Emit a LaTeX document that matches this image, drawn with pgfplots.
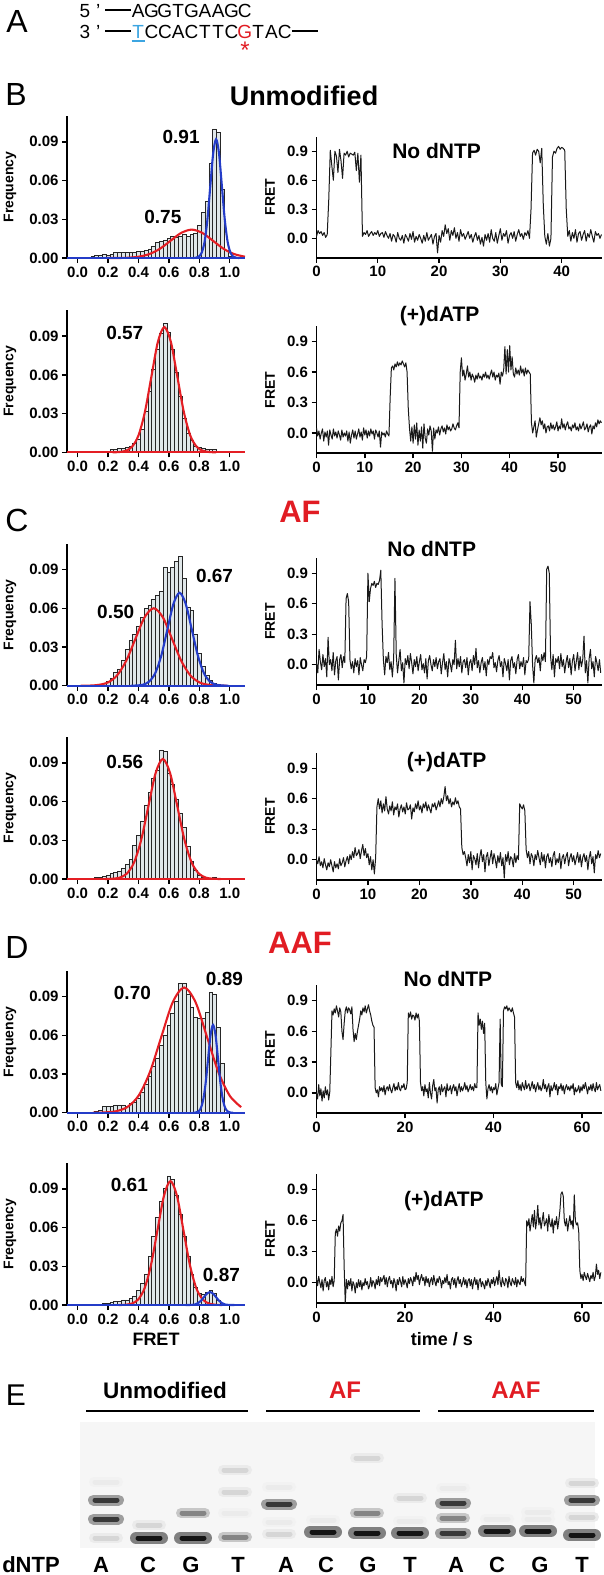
\documentclass[border=0pt]{standalone}
\usepackage{pgfplots}
\usepackage{pgfplotstable}
\pgfplotsset{compat=1.18}
\usepackage{fontspec}
\setmainfont{Liberation Sans}
\definecolor{fitred}{RGB}{228,30,36}
\definecolor{fitblue}{RGB}{36,60,200}
\definecolor{barfill}{RGB}{224,231,233}
\definecolor{seqblue}{RGB}{60,165,225}
\definecolor{labred}{RGB}{225,28,35}
\definecolor{gelbg}{RGB}{246,246,246}
\newcommand\fs[1]{\fontsize{#1}{#1}\selectfont}
\newcommand\cc[1]{\makebox[13.33pt]{#1}}
\newcommand\sdash{\makebox[26.67pt]{\rule[6.5pt]{26pt}{1.2pt}}}
\tikzset{
  pk/.style={font=\fs{19}\bfseries},
  cond/.style={font=\fs{21}\bfseries},
}
\pgfplotsset{
  base/.style={scale only axis, clip=false,
    axis x line*=bottom, axis y line*=left,
    every outer x axis line/.append style={-}, every outer y axis line/.append style={-},
    every inner x axis line/.append style={-}, every inner y axis line/.append style={-},
    axis line style={line width=1.7pt, black},
    major tick style={line width=1.4pt, black}, tick align=outside, major tick length=5pt,
    ticklabel style={font=\fs{15}\bfseries},
  },
  hist/.style={base, width=178pt, height=142pt, xmin=-0.07, xmax=1.1, ymin=0, ymax=0.11,
    xtick={0,0.2,0.4,0.6,0.8,1}, xticklabels={0.0,0.2,0.4,0.6,0.8,1.0},
    ytick={0,0.03,0.06,0.09}, yticklabels={0.00,0.03,0.06,0.09},
    ylabel={Frequency},
    ylabel style={font=\fs{14}\bfseries, at={(axis description cs:-0.32,0.5)}, anchor=center},
  },
  trace/.style={base, width=285pt, ymin=-0.2, ymax=1.05, xmin=0,
    ytick={0,0.3,0.6,0.9}, yticklabels={0.0,0.3,0.6,0.9},
    ylabel={FRET},
    ylabel style={font=\fs{14}\bfseries, at={(axis description cs:-0.163,0.5)}, anchor=center},
  },
  bars/.style={ybar, bar width=0.025, bar shift=0pt, fill=barfill, draw=black!85, line width=0.7pt},
  rfit/.style={fitred, line width=2.1pt, smooth, no markers},
  bfit/.style={fitblue, line width=2.1pt, smooth, no markers},
  tr/.style={black!90, line width=1pt, no markers, line join=round},
}
% gel bands: lane position (px), height above the gel bottom (px), grouped by darkness
\pgfplotstableread{
x y
149 10
323 16
367 15
410 15
497 17
538 17
193 10
582 13
}\gelV
\pgfplotstableread{
x y
106 48
106 29
279 44
453 45
453 15
582 48
}\gelD
\pgfplotstableread{
x y
193 35
235 11
453 30
367 35
}\gelM
\pgfplotstableread{
x y
279 14
582 65
582 31
367 90
106 10
149 23
235 78
235 56
410 50
}\gelF
\pgfplotstableread{
x y
106 66
235 35
279 61
279 26
453 60
538 36
323 28
497 29
538 29
410 27
}\gelW
\newcommand\bandcls[5]{%
  \addplot[only marks, mark=-, mark size=#4pt, mark options={line width=#5pt, line cap=round, draw=#2}] table[x=x,y=y] {#1};
  \addplot[only marks, mark=-, mark size=11pt, mark options={line width=5pt, line cap=round, draw=#3}] table[x=x,y=y] {#1};}

\begin{document}
\begin{tikzpicture}
\path[use as bounding box] (0pt,0pt) rectangle (604pt,-1575pt);

% ---------------- Panel A
\node[anchor=base, font=\fs{32}, inner sep=0] at (17pt,-32pt) {A};
\node[anchor=base west, inner sep=0, font=\fs{19}] at (78pt,-17pt)
  {\cc{5}\cc{'}\sdash\cc{A}\cc{G}\cc{G}\cc{T}\cc{G}\cc{A}\cc{A}\cc{G}\cc{C}};
\node[anchor=base west, inner sep=0, font=\fs{19}] at (78pt,-38pt)
  {\cc{3}\cc{'}\sdash\textcolor{seqblue}{\cc{T}}\cc{C}\cc{C}\cc{A}\cc{C}\cc{T}\cc{T}\cc{C}\textcolor{labred}{\cc{G}}\cc{T}\cc{A}\cc{C}\sdash};
\draw[seqblue, line width=1.5pt] (131.5pt,-41pt) -- (144.5pt,-41pt);
\node[anchor=north, inner sep=0, font=\fs{24}, labred] at (245pt,-41.5pt) {*};

% ---------------- Titles and panel letters
\node[anchor=base, font=\fs{32}, inner sep=0] at (16pt,-105pt) {B};
\node[anchor=base, font=\fs{27}\bfseries, inner sep=0] at (304pt,-105pt) {Unmodified};
\node[anchor=base, font=\fs{32}, inner sep=0] at (17pt,-531pt) {C};
\node[anchor=base, font=\fs{31}\bfseries, inner sep=0, labred] at (300pt,-522pt) {AF};
\node[anchor=base, font=\fs{32}, inner sep=0] at (17pt,-958pt) {D};
\node[anchor=base, font=\fs{31}\bfseries, inner sep=0, labred] at (300pt,-953pt) {AAF};

% ================= B top histogram
\begin{axis}[hist, at={(67pt,-258pt)}, anchor=south west]
\addplot[bars] table[row sep=\\]{x y\\
0.100 0.001\\0.125 0.002\\0.150 0.002\\0.175 0.003\\0.200 0.002\\0.225 0.003\\0.250 0.004\\0.275 0.004\\
0.300 0.004\\0.325 0.004\\0.350 0.004\\0.375 0.004\\0.400 0.005\\0.425 0.005\\0.450 0.006\\0.475 0.007\\
0.500 0.009\\0.525 0.012\\0.550 0.013\\0.575 0.014\\0.600 0.015\\0.625 0.017\\0.650 0.016\\0.675 0.017\\
0.700 0.018\\0.725 0.017\\0.750 0.018\\0.775 0.019\\0.800 0.025\\0.825 0.035\\0.850 0.044\\0.875 0.073\\
0.900 0.100\\0.925 0.097\\0.950 0.053\\0.975 0.006\\1.000 0.001\\};
\addplot[fitred, line width=2.1pt] coordinates {(-0.07,0) (1.1,0)};
\addplot[rfit] coordinates {(0.19,0) (0.26,0) (0.33,0.0002) (0.40,0.0010) (0.47,0.0030) (0.54,0.0071) (0.61,0.0133) (0.68,0.0194) (0.75,0.022) (0.82,0.0194) (0.89,0.0133) (0.96,0.0071) (1.03,0.0030) (1.10,0.0010)};
\addplot[fitblue, line width=2.1pt] coordinates {(-0.07,0) (1.1,0)};
\addplot[bfit] coordinates {(0.758,0) (0.777,0.0002) (0.796,0.0010) (0.815,0.0040) (0.834,0.0124) (0.853,0.0299) (0.872,0.0558) (0.891,0.0812) (0.910,0.092) (0.929,0.0812) (0.948,0.0558) (0.967,0.0299) (0.986,0.0124) (1.005,0.0040) (1.024,0.0010) (1.043,0.0002) (1.062,0)};
\node[pk] at (axis cs:0.68,0.094) {0.91};
\node[pk] at (axis cs:0.56,0.032) {0.75};
\end{axis}

% ================= B top trace
\begin{axis}[trace, at={(316.5pt,-257.7pt)}, anchor=south west, height=121pt, xmax=46.5,
  xtick={0,10,20,30,40}, xticklabels={0,10,20,30,40}]
\addplot[tr] table[row sep=\\, header=false, x expr=\coordindex*0.25, y index=0]{
0.02\\0.08\\0.05\\0.07\\ 0.03\\0.06\\0.01\\0.04\\ 0.40\\0.91\\0.75\\0.60\\ 0.90\\0.85\\0.68\\0.92\\
0.80\\0.62\\0.88\\0.86\\ 0.90\\0.84\\0.88\\0.87\\ 0.86\\0.89\\0.70\\0.88\\ 0.58\\0.86\\0.02\\0.06\\
0.04\\0.08\\0.02\\0.05\\ 0.07\\0.03\\0.06\\0.04\\ 0.08\\0.02\\0.05\\0.06\\ 0.01\\0.07\\0.03\\0.00\\
0.05\\-0.03\\0.04\\0.02\\ -0.04\\0.06\\0.00\\-0.02\\ 0.03\\-0.05\\0.04\\0.01\\ -0.03\\0.05\\-0.01\\0.07\\
-0.04\\0.02\\-0.02\\0.04\\ 0.00\\-0.05\\0.03\\-0.03\\ 0.06\\-0.02\\0.01\\0.04\\ -0.06\\0.02\\0.05\\-0.15\\
0.03\\-0.04\\0.08\\0.02\\ 0.14\\0.05\\0.10\\-0.02\\ 0.08\\0.03\\0.11\\0.00\\ 0.06\\-0.03\\0.09\\0.02\\
0.05\\-0.01\\0.03\\0.07\\ 0.00\\0.04\\-0.04\\0.02\\ 0.06\\-0.02\\0.03\\-0.06\\ 0.01\\-0.08\\0.04\\-0.02\\
0.05\\-0.04\\0.09\\0.00\\ -0.03\\0.06\\-0.05\\0.03\\ 0.10\\-0.02\\0.05\\0.02\\ 0.08\\-0.05\\0.03\\0.06\\
0.00\\0.07\\-0.03\\0.04\\ 0.09\\0.02\\0.05\\-0.01\\ 0.06\\0.03\\0.08\\0.00\\ 0.30\\0.88\\0.91\\0.86\\
0.92\\0.90\\0.78\\0.93\\ 0.35\\0.02\\-0.06\\0.05\\ -0.08\\0.00\\0.84\\0.90\\ 0.88\\0.93\\0.95\\0.92\\
0.94\\0.93\\0.91\\0.30\\ 0.02\\0.08\\-0.03\\0.06\\ 0.00\\0.09\\-0.04\\0.05\\ 0.07\\-0.02\\0.04\\0.08\\
-0.03\\0.05\\0.01\\0.09\\ 0.02\\-0.04\\0.07\\0.03\\ 0.05\\0.00\\0.04\\};
\node[cond] at (axis cs:19.6,0.9) {No dNTP};
\end{axis}

% ================= B bottom histogram
\begin{axis}[hist, at={(67pt,-452.3pt)}, anchor=south west]
\addplot[bars] table[row sep=\\]{x y\\
0.150 0.001\\0.175 0.001\\0.200 0.001\\0.225 0.002\\0.250 0.002\\0.275 0.003\\0.300 0.003\\0.325 0.004\\
0.350 0.005\\0.375 0.007\\0.400 0.010\\0.425 0.018\\0.450 0.032\\0.475 0.047\\0.500 0.064\\0.525 0.080\\
0.550 0.092\\0.575 0.100\\0.600 0.093\\0.625 0.080\\0.650 0.062\\0.675 0.043\\0.700 0.026\\0.725 0.015\\
0.750 0.009\\0.775 0.005\\0.800 0.004\\0.825 0.003\\0.850 0.002\\0.875 0.002\\0.900 0.002\\0.925 0.001\\};
\addplot[fitred, line width=2.1pt] coordinates {(-0.07,0) (1.1,0)};
\addplot[rfit] coordinates {(0.23,0) (0.2725,0.0002) (0.315,0.0011) (0.3575,0.0043) (0.40,0.0131) (0.4425,0.0315) (0.485,0.0588) (0.5275,0.0856) (0.57,0.097) (0.6125,0.0856) (0.655,0.0588) (0.6975,0.0315) (0.74,0.0131) (0.7825,0.0043) (0.825,0.0011) (0.8675,0.0002) (0.91,0)};
\node[pk] at (axis cs:0.31,0.0926) {0.57};
\end{axis}

% ================= B bottom trace
\begin{axis}[trace, at={(316.5pt,-453.3pt)}, anchor=south west, height=127pt, xmax=59,
  xtick={0,10,20,30,40,50}, xticklabels={0,10,20,30,40,50}]
\addplot[tr] table[row sep=\\, header=false, x expr=\coordindex*0.25, y index=0]{
0.05\\-0.03\\0.02\\-0.06\\ 0.00\\0.04\\-0.08\\0.01\\ -0.04\\0.02\\-0.12\\0.03\\ -0.02\\-0.06\\0.04\\-0.03\\
0.01\\-0.05\\0.02\\-0.02\\ -0.07\\0.03\\-0.04\\0.00\\ -0.03\\0.02\\-0.08\\0.01\\ -0.10\\-0.02\\0.03\\-0.05\\
0.02\\-0.06\\-0.01\\0.04\\ -0.04\\0.01\\-0.07\\0.05\\ -0.02\\0.03\\-0.05\\0.02\\ -0.03\\0.04\\-0.01\\0.02\\
-0.06\\0.03\\0.00\\-0.04\\ 0.02\\-0.14\\0.01\\-0.02\\ 0.00\\-0.04\\0.02\\-0.01\\ -0.03\\0.35\\0.64\\0.66\\
0.62\\0.68\\0.65\\0.70\\ 0.66\\0.69\\0.67\\0.71\\ 0.68\\0.65\\0.69\\0.60\\ 0.24\\0.05\\-0.08\\0.06\\
-0.10\\0.08\\-0.06\\0.10\\ -0.12\\0.03\\-0.08\\0.06\\ -0.15\\0.09\\-0.05\\-0.10\\ 0.04\\-0.02\\0.07\\0.02\\
-0.18\\0.05\\-0.06\\0.03\\ 0.00\\0.06\\-0.02\\0.04\\ 0.07\\0.01\\0.05\\-0.01\\ 0.08\\0.03\\0.06\\0.02\\
0.04\\0.09\\0.05\\0.03\\ 0.07\\0.10\\0.05\\0.60\\ 0.74\\0.56\\0.62\\0.52\\ 0.58\\0.66\\0.55\\0.60\\
0.52\\0.58\\0.55\\0.50\\ 0.57\\0.53\\0.59\\0.54\\ 0.56\\0.52\\0.58\\0.55\\ 0.60\\0.54\\0.57\\0.53\\
0.58\\0.62\\0.55\\0.60\\ 0.52\\0.57\\0.55\\0.59\\ 0.48\\0.60\\0.56\\0.62\\ 0.85\\0.58\\0.82\\0.60\\
0.86\\0.62\\0.75\\0.58\\ 0.55\\0.64\\0.58\\0.62\\ 0.57\\0.66\\0.59\\0.63\\ 0.56\\0.64\\0.58\\0.62\\
0.60\\0.58\\0.10\\0.00\\ 0.06\\0.12\\-0.04\\0.03\\ 0.09\\0.15\\0.08\\0.12\\ 0.04\\0.09\\0.00\\0.06\\
0.07\\0.02\\0.10\\0.04\\ 0.08\\0.03\\0.06\\0.11\\ 0.02\\0.07\\0.04\\0.14\\ 0.05\\0.09\\0.03\\0.08\\
0.11\\0.04\\0.06\\0.02\\ 0.08\\0.05\\0.10\\0.03\\ 0.06\\0.02\\0.09\\0.04\\ 0.07\\0.11\\0.03\\0.05\\
0.09\\0.01\\0.06\\0.08\\ -0.01\\0.07\\0.04\\0.10\\ 0.06\\0.13\\0.09\\0.12\\ 0.10\\};
\node[cond] at (axis cs:25.5,1.15) {(+)dATP};
\end{axis}

% ================= C top histogram
\begin{axis}[hist, at={(67pt,-685.7pt)}, anchor=south west]
\addplot[bars] table[row sep=\\]{x y\\
0.150 0.001\\0.175 0.002\\0.200 0.003\\0.225 0.006\\0.250 0.010\\0.275 0.013\\0.300 0.020\\0.325 0.028\\
0.350 0.035\\0.375 0.040\\0.400 0.046\\0.425 0.053\\0.450 0.060\\0.475 0.062\\0.500 0.067\\0.525 0.070\\
0.550 0.073\\0.575 0.092\\0.600 0.088\\0.625 0.092\\0.650 0.096\\0.675 0.100\\0.700 0.083\\0.725 0.061\\
0.750 0.058\\0.775 0.040\\0.800 0.025\\0.825 0.015\\0.850 0.008\\0.875 0.004\\0.900 0.002\\0.925 0.001\\};
\addplot[fitred, line width=2.1pt] coordinates {(-0.07,0) (1.1,0)};
\addplot[rfit] coordinates {(0.02,0) (0.08,0.0001) (0.14,0.0007) (0.20,0.0026) (0.26,0.0081) (0.32,0.0195) (0.38,0.0364) (0.44,0.0530) (0.50,0.060) (0.56,0.0530) (0.62,0.0364) (0.68,0.0195) (0.74,0.0081) (0.80,0.0026) (0.86,0.0007) (0.92,0.0001) (0.98,0)};
\addplot[fitblue, line width=2.1pt] coordinates {(-0.07,0) (1.1,0)};
\addplot[bfit] coordinates {(0.35,0) (0.39,0.0002) (0.43,0.0008) (0.47,0.0032) (0.51,0.0097) (0.55,0.0234) (0.59,0.0437) (0.63,0.0635) (0.67,0.072) (0.71,0.0635) (0.75,0.0437) (0.79,0.0234) (0.83,0.0097) (0.87,0.0032) (0.91,0.0008) (0.95,0.0002) (0.99,0)};
\node[pk] at (axis cs:0.90,0.085) {0.67};
\node[pk] at (axis cs:0.25,0.0574) {0.50};
\end{axis}

% ================= C top trace
\begin{axis}[trace, at={(316.5pt,-685pt)}, anchor=south west, height=127pt, xmax=55.4,
  xtick={0,10,20,30,40,50}, xticklabels={0,10,20,30,40,50}]
\addplot[tr] table[row sep=\\, header=false, x expr=\coordindex*0.25, y index=0]{
0.02\\-0.08\\0.15\\0.03\\ -0.05\\0.10\\-0.02\\0.06\\ -0.12\\0.27\\0.00\\0.05\\ -0.06\\0.12\\-0.10\\0.04\\
0.08\\-0.15\\0.05\\0.10\\ -0.03\\0.08\\0.02\\0.65\\ 0.70\\0.62\\0.05\\-0.04\\ 0.03\\-0.08\\0.06\\-0.02\\
0.04\\-0.10\\0.07\\0.00\\ -0.06\\0.05\\0.02\\0.08\\ 0.90\\0.62\\0.75\\0.80\\ 0.78\\0.82\\0.76\\0.80\\
0.79\\0.83\\0.93\\0.40\\ 0.05\\-0.10\\0.08\\0.02\\ 0.12\\-0.05\\0.03\\-0.12\\ 0.06\\0.85\\0.10\\-0.08\\
0.04\\0.15\\-0.06\\0.02\\ -0.18\\0.06\\0.00\\0.09\\ -0.04\\0.11\\0.02\\-0.09\\ 0.05\\-0.02\\0.08\\-0.06\\
0.03\\0.10\\-0.05\\0.01\\ -0.08\\0.06\\-0.14\\0.04\\ 0.09\\0.00\\-0.06\\0.05\\ -0.02\\0.07\\-0.04\\0.03\\
0.06\\-0.09\\0.02\\0.11\\ -0.05\\0.03\\-0.12\\0.06\\ 0.01\\-0.07\\0.05\\0.00\\ 0.24\\-0.04\\0.06\\-0.02\\
0.08\\-0.08\\0.03\\0.05\\ -0.03\\0.07\\-0.10\\0.02\\ 0.05\\-0.06\\0.09\\0.00\\ 0.16\\-0.03\\0.04\\-0.08\\
0.02\\0.07\\-0.05\\0.03\\ -0.11\\0.05\\0.00\\0.08\\ 0.06\\0.12\\-0.03\\0.02\\ -0.07\\0.04\\0.09\\-0.02\\
0.03\\-0.12\\0.06\\0.01\\ -0.06\\0.05\\-0.15\\0.04\\ 0.08\\-0.03\\0.02\\-0.09\\ 0.05\\0.10\\-0.04\\0.03\\
-0.02\\0.07\\-0.10\\0.04\\ 0.02\\0.06\\0.62\\0.40\\ 0.00\\-0.18\\0.05\\0.09\\ 0.02\\0.07\\-0.06\\0.10\\
0.04\\0.12\\0.03\\0.94\\ 0.97\\0.90\\0.08\\-0.05\\ 0.10\\-0.12\\0.06\\0.02\\ 0.08\\-0.04\\0.11\\-0.02\\
0.05\\-0.08\\0.02\\0.09\\ -0.03\\0.06\\-0.10\\0.04\\ 0.10\\-0.06\\0.03\\0.12\\ -0.05\\0.08\\-0.02\\0.05\\
0.28\\-0.08\\0.04\\-0.18\\ 0.06\\0.15\\-0.04\\0.03\\ -0.12\\0.08\\0.02\\-0.06\\ 0.05\\-0.08\\};
\node[cond] at (axis cs:22.4,1.14) {No dNTP};
\end{axis}

% ================= C bottom histogram
\begin{axis}[hist, at={(67pt,-879pt)}, anchor=south west]
\addplot[bars] table[row sep=\\]{x y\\
0.125 0.001\\0.150 0.001\\0.175 0.002\\0.200 0.003\\0.225 0.004\\0.250 0.005\\0.275 0.006\\0.300 0.008\\
0.325 0.011\\0.350 0.015\\0.375 0.026\\0.400 0.034\\0.425 0.045\\0.450 0.057\\0.475 0.067\\0.500 0.078\\
0.525 0.084\\0.550 0.100\\0.575 0.099\\0.600 0.082\\0.625 0.073\\0.650 0.062\\0.675 0.051\\0.700 0.040\\
0.725 0.025\\0.750 0.014\\0.775 0.007\\0.800 0.003\\0.825 0.001\\0.900 0.001\\};
\addplot[fitred, line width=2.1pt] coordinates {(-0.07,0) (1.1,0)};
\addplot[rfit] coordinates {(0.18,0) (0.2275,0.0002) (0.275,0.0010) (0.3225,0.0041) (0.37,0.0126) (0.4175,0.0302) (0.465,0.0564) (0.5125,0.0821) (0.56,0.093) (0.6075,0.0821) (0.655,0.0564) (0.7025,0.0302) (0.75,0.0126) (0.7975,0.0041) (0.845,0.0010) (0.8925,0.0002) (0.94,0)};
\node[pk] at (axis cs:0.31,0.091) {0.56};
\end{axis}

% ================= C bottom trace
\begin{axis}[trace, at={(316.5pt,-880pt)}, anchor=south west, height=127pt, xmax=55.4,
  xtick={0,10,20,30,40,50}, xticklabels={0,10,20,30,40,50}]
\addplot[tr] table[row sep=\\, header=false, x expr=\coordindex*0.25, y index=0]{
0.00\\-0.04\\0.03\\-0.06\\ -0.02\\-0.08\\0.01\\-0.05\\ -0.10\\-0.03\\-0.07\\0.00\\ -0.06\\-0.12\\-0.02\\-0.08\\
-0.04\\-0.09\\0.01\\-0.06\\ -0.03\\0.02\\-0.07\\-0.01\\ 0.03\\-0.04\\0.05\\0.00\\ 0.08\\0.02\\0.12\\0.04\\
0.06\\0.10\\0.01\\0.09\\ 0.15\\0.04\\0.11\\0.02\\ 0.06\\-0.05\\0.03\\-0.10\\ 0.00\\-0.14\\0.02\\0.52\\
0.60\\0.50\\0.58\\0.46\\ 0.55\\0.48\\0.62\\0.50\\ 0.45\\0.53\\0.48\\0.57\\ 0.44\\0.52\\0.49\\0.55\\
0.42\\0.50\\0.54\\0.47\\ 0.52\\0.45\\0.56\\0.49\\ 0.50\\0.54\\0.40\\0.51\\ 0.47\\0.55\\0.50\\0.58\\
0.49\\0.53\\0.46\\0.55\\ 0.51\\0.57\\0.48\\0.54\\ 0.50\\0.46\\0.55\\0.52\\ 0.56\\0.49\\0.53\\0.58\\
0.52\\0.60\\0.55\\0.62\\ 0.72\\0.58\\0.63\\0.55\\ 0.60\\0.52\\0.57\\0.54\\ 0.61\\0.55\\0.58\\0.52\\
0.50\\0.12\\0.05\\0.08\\ 0.02\\-0.06\\0.05\\-0.03\\ 0.08\\-0.10\\0.04\\0.01\\ -0.05\\0.06\\-0.08\\0.03\\
0.10\\-0.02\\0.05\\-0.12\\ 0.03\\0.07\\-0.06\\0.02\\ 0.09\\-0.04\\0.06\\0.00\\ -0.08\\0.04\\-0.03\\0.07\\
-0.06\\0.02\\-0.18\\0.05\\ -0.02\\0.08\\-0.05\\0.03\\ 0.01\\-0.07\\0.06\\-0.03\\ 0.04\\0.00\\0.55\\0.52\\
0.50\\0.54\\0.48\\0.10\\ 0.02\\0.08\\-0.04\\0.06\\ 0.03\\-0.06\\0.05\\0.00\\ 0.09\\0.02\\-0.05\\0.07\\
-0.02\\0.05\\-0.08\\0.03\\ 0.06\\-0.03\\0.02\\-0.07\\ 0.04\\0.08\\-0.05\\0.01\\ -0.03\\0.06\\-0.09\\0.02\\
0.05\\-0.04\\0.03\\0.07\\ -0.06\\0.02\\0.06\\-0.02\\ 0.04\\-0.05\\0.01\\0.07\\ -0.03\\0.05\\-0.07\\0.02\\
0.06\\-0.02\\0.04\\-0.10\\ 0.02\\0.08\\-0.04\\0.03\\ -0.13\\0.05\\0.01\\0.09\\ 0.02\\0.06\\};
\node[cond] at (axis cs:25.3,0.96) {(+)dATP};
\end{axis}

% ================= D top histogram
\begin{axis}[hist, at={(67pt,-1112.7pt)}, anchor=south west]
\addplot[bars] table[row sep=\\]{x y\\
0.125 0.001\\0.150 0.002\\0.175 0.005\\0.200 0.005\\0.225 0.005\\0.250 0.006\\0.275 0.006\\0.300 0.006\\
0.325 0.005\\0.350 0.007\\0.375 0.008\\0.400 0.011\\0.425 0.016\\0.450 0.022\\0.475 0.028\\0.500 0.036\\
0.525 0.042\\0.550 0.052\\0.575 0.060\\0.600 0.068\\0.625 0.077\\0.650 0.086\\0.675 0.100\\0.700 0.100\\
0.725 0.092\\0.750 0.082\\0.775 0.074\\0.800 0.073\\0.825 0.073\\0.850 0.078\\0.875 0.093\\0.900 0.092\\
0.925 0.066\\0.950 0.038\\};
\addplot[fitred, line width=2.1pt] coordinates {(-0.07,0) (1.1,0)};
\addplot[rfit] coordinates {(0.10,0) (0.175,0.0002) (0.25,0.0011) (0.325,0.0043) (0.40,0.0131) (0.475,0.0315) (0.55,0.0588) (0.625,0.0856) (0.70,0.097) (0.775,0.0856) (0.85,0.0588) (0.925,0.0315) (1.00,0.0131) (1.075,0.0043)};
\addplot[fitblue, line width=2.1pt] coordinates {(-0.07,0) (1.1,0)};
\addplot[bfit] coordinates {(0.758,0) (0.7745,0.0001) (0.791,0.0008) (0.8075,0.0030) (0.824,0.0092) (0.8405,0.0221) (0.857,0.0412) (0.8735,0.0600) (0.89,0.068) (0.9065,0.0600) (0.923,0.0412) (0.9395,0.0221) (0.956,0.0092) (0.9725,0.0030) (0.989,0.0008) (1.0055,0.0001) (1.022,0)};
\node[pk] at (axis cs:0.36,0.093) {0.70};
\node[pk] at (axis cs:0.965,0.104) {0.89};
\end{axis}

% ================= D top trace
\begin{axis}[trace, at={(316.5pt,-1113.3pt)}, anchor=south west, height=128pt, xmax=64.4,
  xtick={0,20,40,60}, xticklabels={0,20,40,60}]
\addplot[tr] table[row sep=\\, header=false, x expr=\coordindex*0.25, y index=0]{
0.00\\-0.06\\0.08\\-0.03\\ 0.04\\-0.08\\0.02\\-0.05\\ 0.06\\-0.02\\0.03\\-0.07\\ 0.01\\0.40\\0.80\\0.76\\
0.82\\0.78\\0.85\\0.80\\ 0.74\\0.83\\0.79\\0.60\\ 0.52\\0.68\\0.80\\0.84\\ 0.78\\0.83\\0.81\\0.77\\
0.84\\0.62\\0.50\\0.58\\ 0.52\\0.60\\0.66\\0.72\\ 0.80\\0.76\\0.83\\0.79\\ 0.85\\0.78\\0.82\\0.86\\
0.80\\0.76\\0.70\\0.66\\ 0.64\\0.05\\0.00\\0.03\\ -0.04\\0.06\\0.02\\0.05\\ 0.01\\0.07\\-0.02\\0.04\\
0.06\\0.02\\0.08\\0.03\\ 0.00\\0.05\\0.09\\0.02\\ 0.06\\0.03\\0.10\\0.04\\ 0.02\\0.07\\0.05\\0.09\\
0.03\\0.04\\0.10\\0.78\\ 0.74\\0.79\\0.72\\0.76\\ 0.75\\0.71\\0.78\\0.73\\ 0.77\\0.70\\0.10\\0.02\\
0.06\\-0.03\\0.08\\0.01\\ 0.04\\-0.05\\0.10\\0.00\\ -0.06\\0.07\\0.13\\0.02\\ 0.05\\-0.10\\0.03\\0.06\\
-0.02\\0.08\\0.01\\0.04\\ 0.06\\-0.04\\0.09\\0.02\\ 0.03\\0.07\\-0.01\\0.05\\ 0.08\\0.02\\0.06\\-0.03\\
0.04\\0.09\\0.01\\0.06\\ 0.02\\0.05\\0.10\\0.03\\ 0.07\\0.01\\0.04\\0.08\\ 0.03\\0.06\\0.02\\0.09\\
0.05\\0.05\\0.78\\0.66\\ 0.72\\0.62\\0.70\\0.58\\ 0.68\\0.10\\-0.06\\0.04\\ 0.08\\0.02\\0.06\\0.00\\
0.05\\0.03\\0.09\\-0.02\\ 0.04\\0.10\\0.72\\0.08\\ 0.06\\0.80\\0.84\\0.82\\ 0.85\\0.80\\0.83\\0.81\\
0.79\\0.83\\0.78\\0.74\\ 0.10\\0.05\\0.12\\0.03\\ 0.08\\0.02\\0.10\\0.06\\ 0.03\\0.12\\0.04\\0.07\\
0.09\\0.02\\0.06\\0.11\\ 0.04\\0.08\\0.01\\0.06\\ 0.10\\0.03\\0.07\\0.02\\ 0.05\\0.13\\0.04\\0.08\\
0.01\\0.06\\0.09\\-0.04\\ 0.07\\0.02\\0.05\\0.10\\ 0.03\\0.08\\-0.02\\0.06\\ 0.04\\0.09\\0.02\\0.07\\
-0.01\\0.05\\0.08\\0.03\\ 0.06\\0.02\\0.07\\0.04\\ 0.09\\-0.02\\0.05\\0.01\\ 0.03\\0.07\\0.00\\0.06\\
0.02\\0.08\\0.04\\0.10\\ 0.05\\-0.01\\0.06\\0.03\\ 0.08\\0.02\\0.09\\0.04\\ 0.01\\0.10\\0.03\\0.06\\
0.08\\0.02\\};
\node[cond] at (axis cs:29.7,1.11) {No dNTP};
\end{axis}

% ================= D bottom histogram
\begin{axis}[hist, at={(67pt,-1305pt)}, anchor=south west]
\addplot[bars] table[row sep=\\]{x y\\
0.175 0.001\\0.200 0.001\\0.225 0.002\\0.250 0.003\\0.275 0.003\\0.300 0.004\\0.325 0.004\\0.350 0.005\\
0.375 0.007\\0.400 0.011\\0.425 0.017\\0.450 0.024\\0.475 0.038\\0.500 0.053\\0.525 0.068\\0.550 0.080\\
0.575 0.090\\0.600 0.100\\0.625 0.097\\0.650 0.085\\0.675 0.070\\0.700 0.053\\0.725 0.038\\0.750 0.024\\
0.775 0.014\\0.800 0.009\\0.825 0.008\\0.850 0.010\\0.875 0.011\\0.900 0.009\\0.925 0.004\\0.950 0.001\\};
\addplot[fitred, line width=2.1pt] coordinates {(-0.07,0) (1.1,0)};
\addplot[rfit] coordinates {(0.27,0) (0.3125,0.0002) (0.355,0.0011) (0.3975,0.0042) (0.44,0.0130) (0.4825,0.0312) (0.525,0.0582) (0.5675,0.0847) (0.61,0.096) (0.6525,0.0847) (0.695,0.0582) (0.7375,0.0312) (0.78,0.0130) (0.8225,0.0042) (0.865,0.0011) (0.9075,0.0002) (0.95,0)};
\addplot[fitblue, line width=2.1pt] coordinates {(-0.07,0) (1.1,0)};
\addplot[bfit] coordinates {(0.71,0) (0.73,0) (0.75,0.0001) (0.77,0.0004) (0.79,0.0014) (0.81,0.0032) (0.83,0.0061) (0.85,0.0088) (0.87,0.010) (0.89,0.0088) (0.91,0.0061) (0.93,0.0032) (0.95,0.0014) (0.97,0.0004) (0.99,0.0001) (1.01,0) (1.03,0)};
\node[pk] at (axis cs:0.34,0.093) {0.61};
\node[pk] at (axis cs:0.945,0.023) {0.87};
\end{axis}
\node[anchor=base, font=\fs{18}\bfseries, inner sep=0] at (156pt,-1345pt) {FRET};

% ================= D bottom trace
\begin{axis}[trace, at={(316.5pt,-1303.3pt)}, anchor=south west, height=129pt, xmax=64.4,
  xtick={0,20,40,60}, xticklabels={0,20,40,60}]
\addplot[tr] table[row sep=\\, header=false, x expr=\coordindex*0.25, y index=0]{
0.04\\-0.03\\0.06\\0.00\\ -0.05\\0.03\\-0.08\\0.02\\ 0.05\\-0.04\\0.01\\-0.07\\ 0.03\\-0.02\\0.06\\-0.04\\
0.02\\0.48\\0.52\\0.45\\ 0.55\\0.50\\0.58\\0.60\\ 0.66\\0.15\\-0.20\\0.03\\ -0.06\\0.02\\-0.03\\0.04\\
-0.08\\0.01\\-0.02\\-0.10\\ 0.00\\-0.05\\0.03\\-0.04\\ 0.02\\-0.07\\0.00\\-0.03\\ 0.04\\-0.02\\0.01\\-0.06\\
-0.03\\0.05\\-0.04\\0.02\\ 0.00\\-0.06\\0.03\\-0.02\\ 0.06\\-0.03\\0.05\\0.01\\ 0.04\\0.07\\-0.02\\0.05\\
-0.04\\0.03\\0.06\\-0.01\\ 0.02\\-0.05\\0.04\\0.00\\ -0.08\\0.03\\-0.02\\0.05\\ 0.01\\-0.04\\0.06\\-0.02\\
0.03\\0.00\\-0.05\\0.04\\ -0.01\\0.05\\0.02\\-0.03\\ 0.06\\0.01\\0.10\\0.03\\ 0.07\\-0.02\\0.04\\0.08\\
0.02\\0.05\\-0.03\\0.06\\ 0.00\\0.04\\-0.04\\0.02\\ 0.05\\-0.02\\0.07\\0.01\\ -0.03\\0.04\\0.00\\0.06\\
0.03\\-0.05\\0.02\\-0.01\\ 0.05\\0.00\\0.08\\-0.02\\ 0.01\\-0.06\\0.03\\0.05\\ -0.02\\0.04\\-0.05\\0.02\\
0.06\\-0.01\\0.03\\-0.04\\ 0.00\\0.05\\-0.02\\0.03\\ -0.05\\0.02\\0.04\\-0.03\\ 0.03\\-0.06\\0.01\\0.05\\
-0.02\\0.03\\-0.07\\0.02\\ 0.04\\-0.04\\0.01\\-0.02\\ -0.06\\0.02\\-0.03\\0.04\\ 0.00\\-0.05\\0.03\\-0.01\\
0.05\\-0.03\\0.02\\0.06\\ -0.02\\0.12\\0.01\\-0.04\\ 0.05\\0.00\\-0.03\\0.04\\ 0.02\\-0.05\\0.06\\0.00\\
-0.03\\0.04\\0.01\\-0.02\\ 0.05\\-0.04\\0.03\\0.00\\ -0.02\\0.06\\0.01\\0.04\\ 0.00\\-0.03\\0.60\\0.55\\
0.62\\0.50\\0.58\\0.66\\ 0.54\\0.70\\0.52\\0.60\\ 0.75\\0.56\\0.63\\0.52\\ 0.60\\0.68\\0.55\\0.58\\
0.62\\0.50\\0.66\\0.57\\ 0.54\\0.62\\0.48\\0.60\\ 0.56\\0.64\\0.52\\0.60\\ 0.70\\0.86\\0.88\\0.84\\
0.60\\0.55\\0.62\\0.50\\ 0.58\\0.65\\0.56\\0.60\\ 0.52\\0.85\\0.60\\0.56\\ 0.58\\0.50\\0.12\\0.04\\
0.08\\0.02\\0.10\\0.06\\ 0.03\\0.09\\0.05\\0.01\\ 0.07\\0.04\\0.10\\0.02\\ 0.06\\0.18\\0.08\\0.12\\
0.04\\0.10\\};
\node[cond] at (axis cs:28.8,0.79) {(+)dATP};
\end{axis}
\node[anchor=base, font=\fs{18}\bfseries, inner sep=0] at (442pt,-1345pt) {time / s};

% ================= Panel E
\node[anchor=base, font=\fs{30}, inner sep=0] at (16pt,-1405pt) {E};
\node[anchor=base, font=\fs{22.5}\bfseries, inner sep=0] at (165pt,-1398pt) {Unmodified};
\node[anchor=base, font=\fs{24}\bfseries, inner sep=0, labred] at (345pt,-1398pt) {AF};
\node[anchor=base, font=\fs{24}\bfseries, inner sep=0, labred] at (516pt,-1398pt) {AAF};
\draw[line width=2pt] (86pt,-1411pt) -- (248pt,-1411pt);
\draw[line width=2pt] (266pt,-1411pt) -- (420pt,-1411pt);
\draw[line width=2pt] (438pt,-1411pt) -- (594pt,-1411pt);
\begin{axis}[at={(80pt,-1548pt)}, anchor=south west, scale only axis, width=515pt, height=126pt,
  xmin=80, xmax=595, ymin=0, ymax=126, enlargelimits=false,
  axis line style={draw=none}, ticks=none, clip=true,
  axis background/.style={fill=gelbg}]
\bandcls{\gelW}{black!5}{black!8}{12}{10}
\bandcls{\gelF}{black!8}{black!16}{12}{10}
\bandcls{\gelM}{black!22}{black!48}{12}{10}
\bandcls{\gelD}{black!38}{black!78}{12.5}{11}
\bandcls{\gelV}{black!50}{black!92}{13}{12}
\end{axis}
\node[anchor=base, font=\fs{22}\bfseries, inner sep=0] at (31pt,-1572pt) {dNTP};
\foreach \xx/\ll in {101/A,148/C,191/G,238/T,286/A,326/C,368/G,410/T,456/A,497/C,540/G,582/T}
  \node[anchor=base, font=\fs{22}\bfseries, inner sep=0] at (\xx pt,-1572pt) {\ll};
\end{tikzpicture}
\end{document}
